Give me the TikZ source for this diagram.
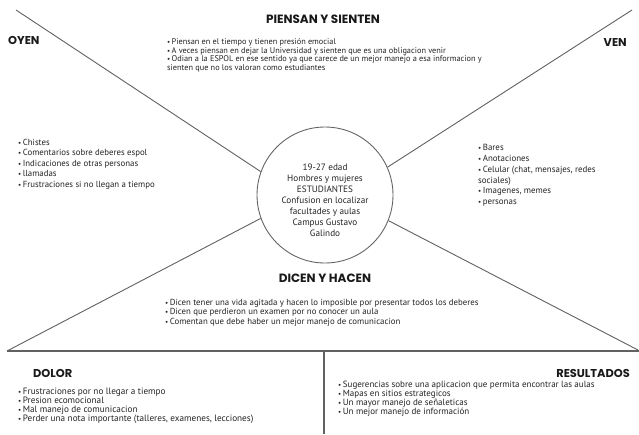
\documentclass[tikz,border=0pt]{standalone}
\usepackage{fontspec}
\setmainfont{PT Sans}
\newfontfamily\headfont{Poppins}
\newcommand\itm{{\scriptsize\textbullet}\,}

\begin{document}
\begin{tikzpicture}[x=1pt,y=-1pt,
  rule/.style={draw=black!62, line width=0.9pt},
  heading/.style={font=\headfont\bfseries\fontsize{11.4}{13}\selectfont, text=black!90, inner sep=0pt},
  items/.style 2 args={font=\fontsize{#1}{#2}\selectfont, text=black!86, align=left, inner sep=0pt, anchor=north west},
]
\useasboundingbox[fill=white] (0,0) rectangle (639,434);

% central profile circle
\node[circle, draw=black!60, line width=0.9pt, minimum size=136pt, inner sep=0pt] (core) at (325,195) {};
\node[font=\fontsize{9.2}{11}\selectfont, text=black!86, align=center, inner sep=0pt] (coretext) at (325,200.5)
  {19-27 edad\\Hombres y mujeres\\ESTUDIANTES\\Confusion en localizar\\facultades y aulas\\Campus Gustavo\\Galindo};

% quadrant dividers
\coordinate (tl) at (16,10);
\coordinate (tr) at (632,10);
\coordinate (bl) at (7,351);
\coordinate (br) at (638,350);
\coordinate (hr) at (639,351);
\coordinate (vt) at (324,351);
\coordinate (vb) at (324,434);
\draw[rule] (tl) -- (core.160.5);
\draw[rule] (tr) -- (core.24);
\draw[rule] (bl) -- (core.200);
\draw[rule] (br) -- (core.-22);
\draw[rule, line width=1.3pt] (bl) -- (hr);
\draw[rule, line width=1.3pt] (vt) -- (vb);

% headings
\node[heading, font=\headfont\bfseries\fontsize{12}{13}\selectfont] (hpiensan) at (323,19) {PIENSAN Y SIENTEN};
\node[heading, anchor=west] (hoyen) at (8,40) {OYEN};
\node[heading, anchor=east] (hven) at (627,42) {VEN};
\node[heading, font=\headfont\bfseries\fontsize{12}{13}\selectfont] (hdicen) at (325,278) {DICEN Y HACEN};
\node[heading, anchor=west] (hdolor) at (33,373) {DOLOR};
\node[heading, anchor=east] (hres) at (630,373) {RESULTADOS};

% lists
\node[items={8.3}{8.5}] (lpiensan) at (167,38.8) {\itm Piensan en el tiempo y tienen presión emocial\\
\itm A veces piensan en dejar la Universidad y sienten que es una obligacion venir\\
\itm Odian a la ESPOL en ese sentido ya que carece de un mejor manejo a esa informacion y\\
sienten que no los valoran como estudiantes};

\node[items={8.8}{10.6}] (loyen) at (18,138.6) {\itm Chistes\\
\itm Comentarios sobre deberes espol\\
\itm Indicaciones de otras personas\\
\itm llamadas\\
\itm Frustraciones si no llegan a tiempo};

\node[items={8.9}{10.9}] (lven) at (478,143.8) {\itm Bares\\
\itm Anotaciones\\
\itm Celular (chat, mensajes, redes\\
sociales)\\
\itm Imagenes, memes\\
\itm personas};

\node[items={8.8}{9.5}] (ldicen) at (165,298.9) {\itm Dicen tener una vida agitada y hacen lo imposible por presentar todos los deberes\\
\itm Dicen que perdieron un examen por no conocer un aula\\
\itm Comentan que debe haber un mejor manejo de comunicacion};

\node[items={9.2}{9.2}] (ldolor) at (18,387.5) {\itm Frustraciones por no llegar a tiempo\\
\itm Presion ecomocional\\
\itm Mal manejo de comunicacion\\
\itm Perder una nota importante (talleres, examenes, lecciones)};

\node[items={9.0}{9.0}] (lres) at (338,380.8) {\itm Sugerencias sobre una aplicacion que permita encontrar las aulas\\
\itm Mapas en sitios estrategicos\\
\itm Un mayor manejo de señaleticas\\
\itm Un mejor manejo de información};
\end{tikzpicture}
\end{document}
